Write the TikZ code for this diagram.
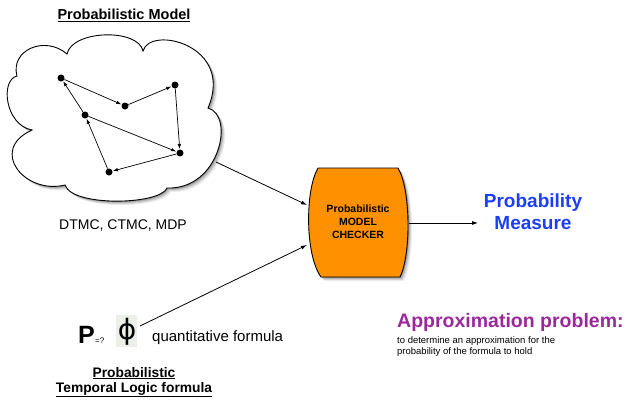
\documentclass[tikz,border=0pt]{standalone}
\usepackage{fontspec}
\setmainfont{Liberation Sans}
\newfontfamily\phifont{DejaVu Sans}
\usetikzlibrary{arrows.meta}
\definecolor{chkorange}{RGB}{255,145,0}
\definecolor{pmblue}{RGB}{28,62,250}
\definecolor{appurple}{RGB}{155,40,155}
\definecolor{phibg}{RGB}{236,240,232}
\newcommand\mycloudpath{(32,130) .. controls (5,125) and (0,80) .. (17,76)
  .. controls (10,50) and (45,35) .. (67,54)
  .. controls (72,30) and (138,28) .. (143,51)
  .. controls (150,25) and (235,45) .. (208,108)
  .. controls (235,115) and (220,190) .. (167,188)
  .. controls (160,205) and (72,207) .. (65,185)
  .. controls (25,195) and (-12,150) .. (32,130) -- cycle}
\newcommand\mychkpath{(318,168) -- (398,168) .. controls (411,190) and (411,255) .. (400,277)
  -- (321,277) .. controls (305,255) and (305,190) .. (318,168) -- cycle}
\begin{document}
\begin{tikzpicture}[x=1pt,y=-1pt,
  dot/.style={circle,fill=black,inner sep=0pt,minimum size=7pt},
  gedge/.style={-{Latex[length=5pt,width=3.5pt]},line width=0.7pt,shorten >=0.3pt},
  mainarrow/.style={-{Latex[length=6pt,width=4pt]},line width=0.8pt},
  txt/.style={inner sep=0pt,align=center}]
\useasboundingbox (0,0) rectangle (629,399);
% cloud with soft shadow
\foreach \s/\o in {4/0.07,3/0.1,2/0.14,1/0.18}{
  \fill[black,opacity=\o,shift={(\s,\s)}] \mycloudpath;}
\filldraw[fill=white,draw=black,line width=0.9pt] \mycloudpath;
% graph inside cloud
\node[dot] (a) at (61,78) {};
\node[dot] (b) at (125,106) {};
\node[dot] (c) at (175,85) {};
\node[dot] (d) at (85,115) {};
\node[dot] (e) at (180,153) {};
\node[dot] (f) at (109,172) {};
\draw[gedge] (a) -- (b);
\draw[gedge] (b) -- (c);
\draw[gedge] (c) -- (e);
\draw[gedge] (d) -- (e);
\draw[gedge] (e) -- (f);
\draw[gedge] (f) -- (d);
\draw[gedge] (d) -- (a);
% checker with shadow
\foreach \s/\o in {4/0.07,3/0.1,2/0.14,1/0.18}{
  \fill[black,opacity=\o,shift={(\s,\s)}] \mychkpath;}
\filldraw[fill=chkorange,draw=black,line width=0.9pt,line join=round] \mychkpath;
\node[txt,font=\fontsize{10.5}{13}\selectfont\bfseries] (chk) at (358,222) {Probabilistic\\MODEL\\CHECKER};
% texts
\node[txt,font=\fontsize{14.5}{17}\selectfont\bfseries] (title) at (124,15) {\underline{Probabilistic Model}};
\node[txt,font=\fontsize{14}{17}\selectfont] (models) at (123,226) {DTMC, CTMC, MDP};
\node[txt,font=\fontsize{19}{21.5}\selectfont\bfseries,text=pmblue] (pm) at (533,211.5) {Probability\\Measure};
\node[txt,font=\fontsize{19.5}{22}\selectfont\bfseries,text=appurple,anchor=west] (ap) at (397,322) {Approximation problem:};
\node[txt,font=\fontsize{9.5}{11.5}\selectfont,anchor=north west,align=left] (apd) at (397,336) {to determine an approximation for the\\probability of the formula to hold};
% formula
\fill[phibg] (116,315) rectangle (137,347);
\node[txt,font=\fontsize{25}{25}\selectfont\bfseries,anchor=base west] (P) at (78,343) {P};
\node[txt,font=\fontsize{8}{8}\selectfont,anchor=base west] (eq) at (95,343) {=?};
\node[txt,font=\phifont\fontsize{28}{28}\selectfont] (phi) at (127,332) {ϕ};
\node[txt,font=\fontsize{15}{17}\selectfont,anchor=west] (qf) at (152,338) {quantitative formula};
\node[txt,font=\fontsize{13.8}{15}\selectfont\bfseries] (ptl) at (134,382) {\underline{Probabilistic}\\\underline{Temporal Logic formula}};
% connectors
\coordinate (cloudout) at (216,162);
\coordinate (chkin1) at (307,205);
\coordinate (fstart) at (140,326);
\coordinate (chkin2) at (307,245);
\coordinate (chkout) at (409,223);
\coordinate (pmin) at (478,223);
\draw[mainarrow] (cloudout) -- (chkin1);
\draw[mainarrow] (fstart) -- (chkin2);
\draw[mainarrow] (chkout) -- (pmin);
\end{tikzpicture}
\end{document}
